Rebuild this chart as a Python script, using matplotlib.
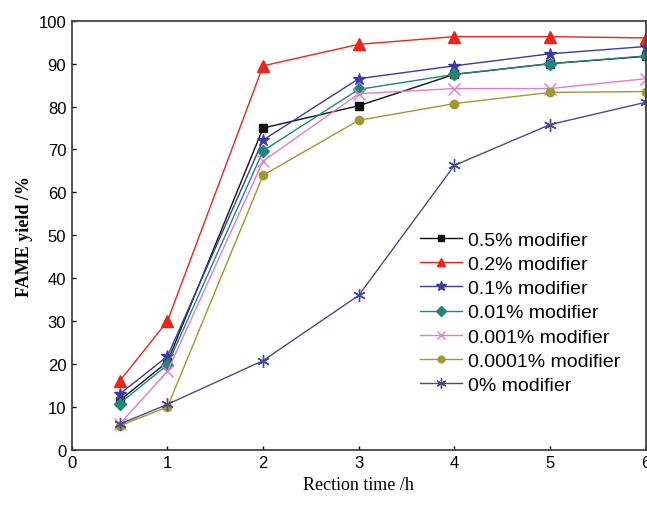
import matplotlib
matplotlib.use("Agg")
import matplotlib.pyplot as plt

# reaction time (h)
time_h = [0.5, 1, 2, 3, 4, 5, 6]

mod_05 = [11.5, 20.5, 75.0, 80.2, 87.5, 90.0, 91.7]
mod_02 = [16.0, 30.0, 89.5, 94.5, 96.3, 96.3, 96.0]
mod_01 = [13.0, 21.8, 72.2, 86.5, 89.5, 92.3, 94.0]
mod_001 = [10.8, 19.8, 69.7, 84.0, 87.5, 90.0, 91.8]
mod_0001 = [6.0, 18.3, 67.3, 83.0, 84.2, 84.2, 86.5]
mod_00001 = [5.6, 10.0, 64.0, 76.8, 80.7, 83.3, 83.5]
mod_0 = [6.0, 10.6, 20.8, 36.0, 66.3, 75.8, 81.0]

labels = ["0.5% modifier", "0.2% modifier", "0.1% modifier", "0.01% modifier",
          "0.001% modifier", "0.0001% modifier", "0% modifier"]
series = [mod_05, mod_02, mod_01, mod_001, mod_0001, mod_00001, mod_0]
colors = ["#111111", "#e8261e", "#3c3c9c", "#23857a", "#e27ccc", "#9c9a30", "#4a4a8c"]
markers = ["s", "^", "*", "D", "x", "o", (6, 2, 0)]
msizes = [6, 8, 9, 6, 8, 6, 9]

fig = plt.figure(figsize=(6.47, 5.06), dpi=100)
ax = fig.add_axes([0.111, 0.109, 0.887, 0.848])

for y, lab, c, m, ms in zip(series, labels, colors, markers, msizes):
    ax.plot(time_h, y, color=c, marker=m, markersize=ms, linewidth=1.0,
            markeredgewidth=1.0, label=lab)

ax.set_xlim(0, 6)
ax.set_ylim(0, 100)
ax.set_xticks(range(0, 7))
ax.set_yticks(range(0, 101, 10))

ax.tick_params(direction="in", length=3, width=1, labelsize=12, pad=4)
for t in ax.get_xticklabels() + ax.get_yticklabels():
    t.set_family("Liberation Sans")

for s in ax.spines.values():
    s.set_color("#444444")
    s.set_linewidth(1.3)

ax.set_xlabel("Rection time /h", family="Liberation Serif", fontsize=13)
ax.set_ylabel("FAME yield /%", family="Liberation Serif", fontsize=13,
              fontweight="bold")

leg = ax.legend(loc="center left", bbox_to_anchor=(0.606, 0.32), frameon=False,
                prop={"family": "Liberation Sans", "size": 14},
                handlelength=2.2, labelspacing=0.34, handletextpad=0.3,
                markerscale=0.8, borderpad=0, borderaxespad=0)

fig.savefig("out.png", dpi=100)
